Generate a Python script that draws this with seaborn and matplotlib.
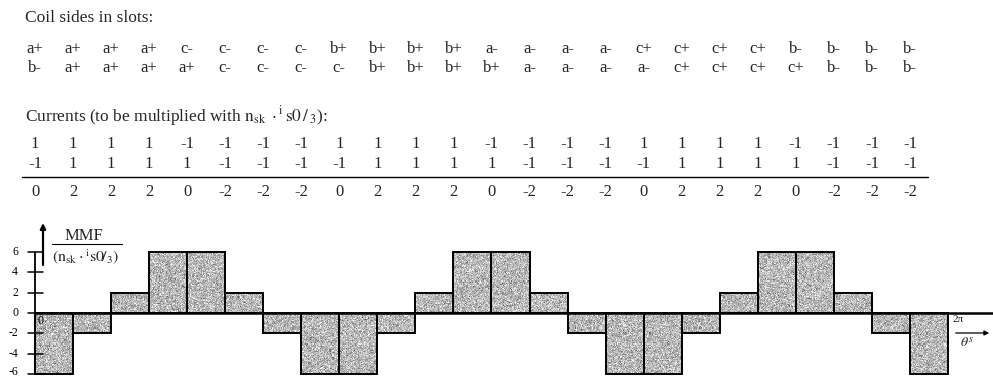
import numpy as np
import pandas as pd
import matplotlib
matplotlib.use("Agg")
import matplotlib.pyplot as plt
import seaborn as sns
from matplotlib.lines import Line2D
from matplotlib.patches import FancyArrowPatch
from matplotlib.transforms import blended_transform_factory

# Slot contents for the two coil-side layers
coil_row_1 = ["a+", "a+", "a+", "a+", "c-", "c-", "c-", "c-", "b+", "b+", "b+", "b+",
              "a-", "a-", "a-", "a-", "c+", "c+", "c+", "c+", "b-", "b-", "b-", "b-"]
coil_row_2 = ["b-", "a+", "a+", "a+", "a+", "c-", "c-", "c-", "c-", "b+", "b+", "b+",
              "b+", "a-", "a-", "a-", "a-", "c+", "c+", "c+", "c+", "b-", "b-", "b-"]

# Slot currents (per unit of n_sk * i_s0 / 3)
current_row_1 = [1, 1, 1, 1, -1, -1, -1, -1, 1, 1, 1, 1,
                 -1, -1, -1, -1, 1, 1, 1, 1, -1, -1, -1, -1]
current_row_2 = [-1, 1, 1, 1, 1, -1, -1, -1, -1, 1, 1, 1,
                 1, -1, -1, -1, -1, 1, 1, 1, 1, -1, -1, -1]
current_sum = [0, 2, 2, 2, 0, -2, -2, -2, 0, 2, 2, 2,
               0, -2, -2, -2, 0, 2, 2, 2, 0, -2, -2, -2]

# MMF level between consecutive slots
mmf = [-6, -2, 2, 6, 6, 2, -2, -6, -6, -2, 2, 6,
       6, 2, -2, -6, -6, -2, 2, 6, 6, 2, -2, -6]
ytick_values = [-6, -4, -2, 0, 2, 4, 6]

sns.set_theme(style="white")
plt.rcParams["font.family"] = ["Liberation Serif", "DejaVu Serif"]
plt.rcParams["mathtext.fontset"] = "stix"

W, H = 993, 377
fig = plt.figure(figsize=(W / 100, H / 100), dpi=100)
fig.patch.set_facecolor("white")

# geometry of the MMF diagram (pixels)
x0_px, slot_px = 35.0, 38.04
y0_px, unit_px = 313.0, 10.17
ax_top_px = 200.0

ax = fig.add_axes([0, 0, 1, (H - ax_top_px) / H])
xmin = -0.5 - x0_px / slot_px
xmax = -0.5 + (W - x0_px) / slot_px
ymin = (y0_px - H) / unit_px
ymax = (y0_px - ax_top_px) / unit_px


def fy(py):
    return 1 - py / H


def dx(px):
    return px / slot_px


df = pd.DataFrame({"slot": list(range(len(mmf))), "mmf": mmf})
sns.barplot(data=df, x="slot", y="mmf", width=1.0, color="#b4b4b4", saturation=1,
            edgecolor="black", linewidth=1.4, ax=ax, zorder=2)
ax.set_xlim(xmin, xmax)
ax.set_ylim(ymin, ymax)
ax.set_axis_off()

# halftone-like grain inside the bars
rng = np.random.default_rng(7)
grain = np.clip(rng.normal(0.72, 0.12, size=(int(H - ax_top_px), W)), 0.3, 1.0)
for patch in ax.patches:
    img = ax.imshow(grain, cmap="gray", vmin=0, vmax=1, extent=(xmin, xmax, ymin, ymax),
                    aspect="auto", interpolation="nearest", zorder=1)
    img.set_clip_path(patch)
    patch.set_facecolor("none")
ax.set_xlim(xmin, xmax)
ax.set_ylim(ymin, ymax)

# axes lines
ax.plot([-0.5, xmax], [0, 0], color="black", lw=1.8, zorder=4, solid_capstyle="butt")
ax.plot([-0.5, -0.5], [-6, 6], color="black", lw=1.3, zorder=4)
for v in ytick_values:
    ax.plot([-0.5 - dx(7), -0.5 + dx(8)], [v, v], color="black", lw=1.1, zorder=4)
    # the lowest label sits on the figure edge, so keep it just inside
    ax.text(-0.5 - dx(17), max(v, -5.85), f"{v}", ha="right", va="center",
            fontsize=8.5, color="black")
ax.text(-0.5 + dx(3), -0.15, "0", ha="left", va="top", fontsize=8.5, color="black", zorder=5)

# vertical MMF arrow and its label
ax.annotate("", xy=(-0.5 + dx(8), (y0_px - 223) / unit_px),
            xytext=(-0.5 + dx(8), (y0_px - 265) / unit_px),
            arrowprops=dict(arrowstyle="-|>", lw=1.6, color="black", mutation_scale=8,
                            shrinkA=0, shrinkB=0))
fig.text(84 / W, fy(236), "MMF", ha="center", va="center", fontsize=12)
fig.add_artist(Line2D([52 / W, 122 / W], [fy(244), fy(244)], color="black", lw=0.8,
                      transform=fig.transFigure))
fig.text(86 / W, fy(257),
         r"$\left(\mathrm{n}_{\mathrm{sk}}\cdot{}^{\mathrm{i}}\mathrm{s0}\!/_{3}\right)$",
         ha="center", va="center", fontsize=11.5)

# angle axis annotation at the right end
fig.text(953 / W, fy(315), "2π", ha="left", va="top", fontsize=8)
fig.add_artist(FancyArrowPatch((953 / W, fy(333)), (992 / W, fy(333)),
                               transform=fig.transFigure, arrowstyle="-|>",
                               mutation_scale=7, lw=0.9, color="black"))
fig.text(960 / W, fy(343), r"$\theta^{s}$", ha="left", va="center", fontsize=10)

# slot tables above the diagram
col_tr = blended_transform_factory(ax.transData, fig.transFigure)
fs_title, fs_row = 12.5, 12

fig.text(25 / W, fy(22), "Coil sides in slots:", ha="left", va="baseline", fontsize=fs_title)
for i, (s1, s2) in enumerate(zip(coil_row_1, coil_row_2)):
    fig.text(i - 0.5, fy(53), s1, ha="center", va="baseline", fontsize=fs_row, transform=col_tr)
    fig.text(i - 0.5, fy(72), s2, ha="center", va="baseline", fontsize=fs_row, transform=col_tr)

fig.text(25 / W, fy(121),
         "Currents (to be multiplied with "
         + r"$\mathrm{n}_{\mathrm{sk}}\;\cdot{}^{\mathrm{i}}\,\mathrm{s0}\,/\,_{3}$):",
         ha="left", va="baseline", fontsize=fs_title)
for i, (c1, c2, cs) in enumerate(zip(current_row_1, current_row_2, current_sum)):
    fig.text(i - 0.5, fy(148), f"{c1}", ha="center", va="baseline", fontsize=fs_row, transform=col_tr)
    fig.text(i - 0.5, fy(168), f"{c2}", ha="center", va="baseline", fontsize=fs_row, transform=col_tr)
    fig.text(i - 0.5, fy(196), f"{cs}", ha="center", va="baseline", fontsize=fs_row, transform=col_tr)
fig.add_artist(Line2D([22 / W, 928 / W], [fy(177), fy(177)], color="black", lw=1.0,
                      transform=fig.transFigure))

fig.savefig("out.png", dpi=100, facecolor="white")
